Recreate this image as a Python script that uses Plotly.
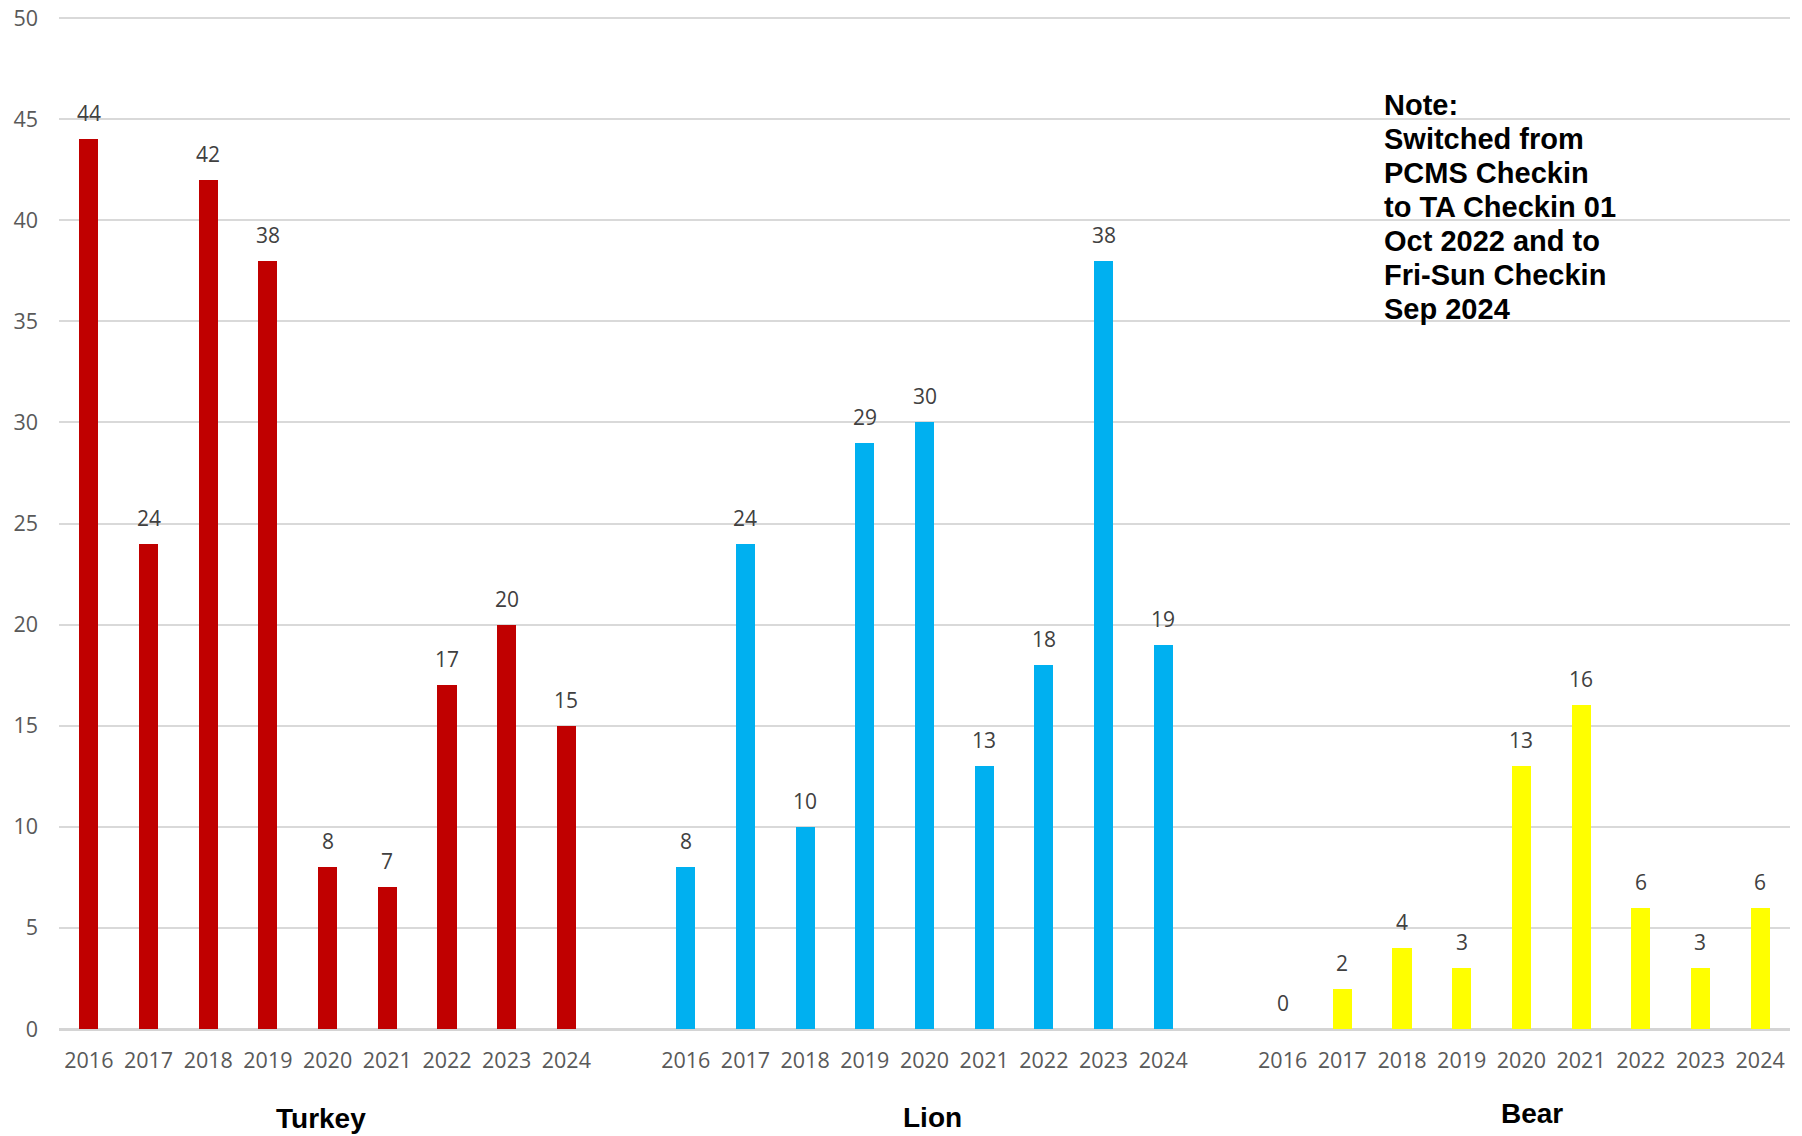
import plotly.graph_objects as go

years = ["2016", "2017", "2018", "2019", "2020", "2021", "2022", "2023", "2024"]
groups = ["Turkey", "Lion", "Bear"]
turkey = [44, 24, 42, 38, 8, 7, 17, 20, 15]
lion = [8, 24, 10, 29, 30, 13, 18, 38, 19]
bear = [0, 2, 4, 3, 13, 16, 6, 3, 6]
colors = ["#C00000", "#00B0F0", "#FFFF00"]
note_lines = ["Note:", "Switched from", "PCMS Checkin", "to TA Checkin 01",
              "Oct 2022 and to", "Fri-Sun Checkin", "Sep 2024"]

series = [turkey, lion, bear]
slot = len(years) + 1

fig = go.Figure()
annotations = []
tickvals, ticktext = [], []
for gi, (name, vals, col) in enumerate(zip(groups, series, colors)):
    xs = [gi * slot + i for i in range(len(years))]
    tickvals += xs
    ticktext += years
    fig.add_trace(go.Bar(x=xs, y=vals, name=name, marker=dict(color=col, line=dict(width=0)),
                         width=0.32, showlegend=False))
    for x, v in zip(xs, vals):
        annotations.append(dict(x=x, y=v, xref="x", yref="y", text=str(v), showarrow=False,
                                yanchor="bottom", yshift=10,
                                font=dict(family="Open Sans", size=21, color="#404040")))
    center = gi * slot + (len(years) - 1) / 2
    annotations.append(dict(x=center, y=0, xref="x", yref="y", text="<b>" + name + "</b>",
                            showarrow=False, yanchor="middle",
                            yshift=[-89, -88, -84][gi],
                            xshift=[-7, 8, 11][gi],
                            font=dict(family="Liberation Sans", size=28, color="#000000")))

for li, line in enumerate(note_lines):
    annotations.append(dict(x=0.7642, y=46.6, xref="paper", yref="y", text="<b>" + line + "</b>",
                            showarrow=False, xanchor="left", yanchor="top", align="left",
                            yshift=-34.1 * li,
                            font=dict(family="Liberation Sans", size=29, color="#000000")))

fig.update_layout(
    width=1794, height=1128,
    margin=dict(l=51, r=12, t=8.3, b=107, autoexpand=False),
    plot_bgcolor="white", paper_bgcolor="white",
    bargap=0,
    annotations=annotations,
    xaxis=dict(range=[-0.5, 3 * slot - 1.5], tickmode="array", tickvals=tickvals, ticktext=ticktext,
               showgrid=False, zeroline=False, showline=False, ticks="",
               ticklabelstandoff=16,
               tickfont=dict(family="Open Sans", size=21.5, color="#595959")),
    yaxis=dict(range=[0, 50.1], tickmode="array", tickvals=list(range(0, 51, 5)),
               showgrid=True, gridcolor="#d9d9d9", gridwidth=1.6,
               zeroline=True, zerolinecolor="#d4d4d4", zerolinewidth=2.6, showline=False, ticks="",
               ticklabelstandoff=20, ticklabeloverflow="allow",
               tickfont=dict(family="Open Sans", size=21.5, color="#595959")),
    shapes=[dict(type="line", xref="paper", yref="paper", x0=1.0044, x1=1.0044,
                 y0=-0.11, y1=1.02, line=dict(color="#d9d9d9", width=2))],
)

fig.write_html("out.html")
